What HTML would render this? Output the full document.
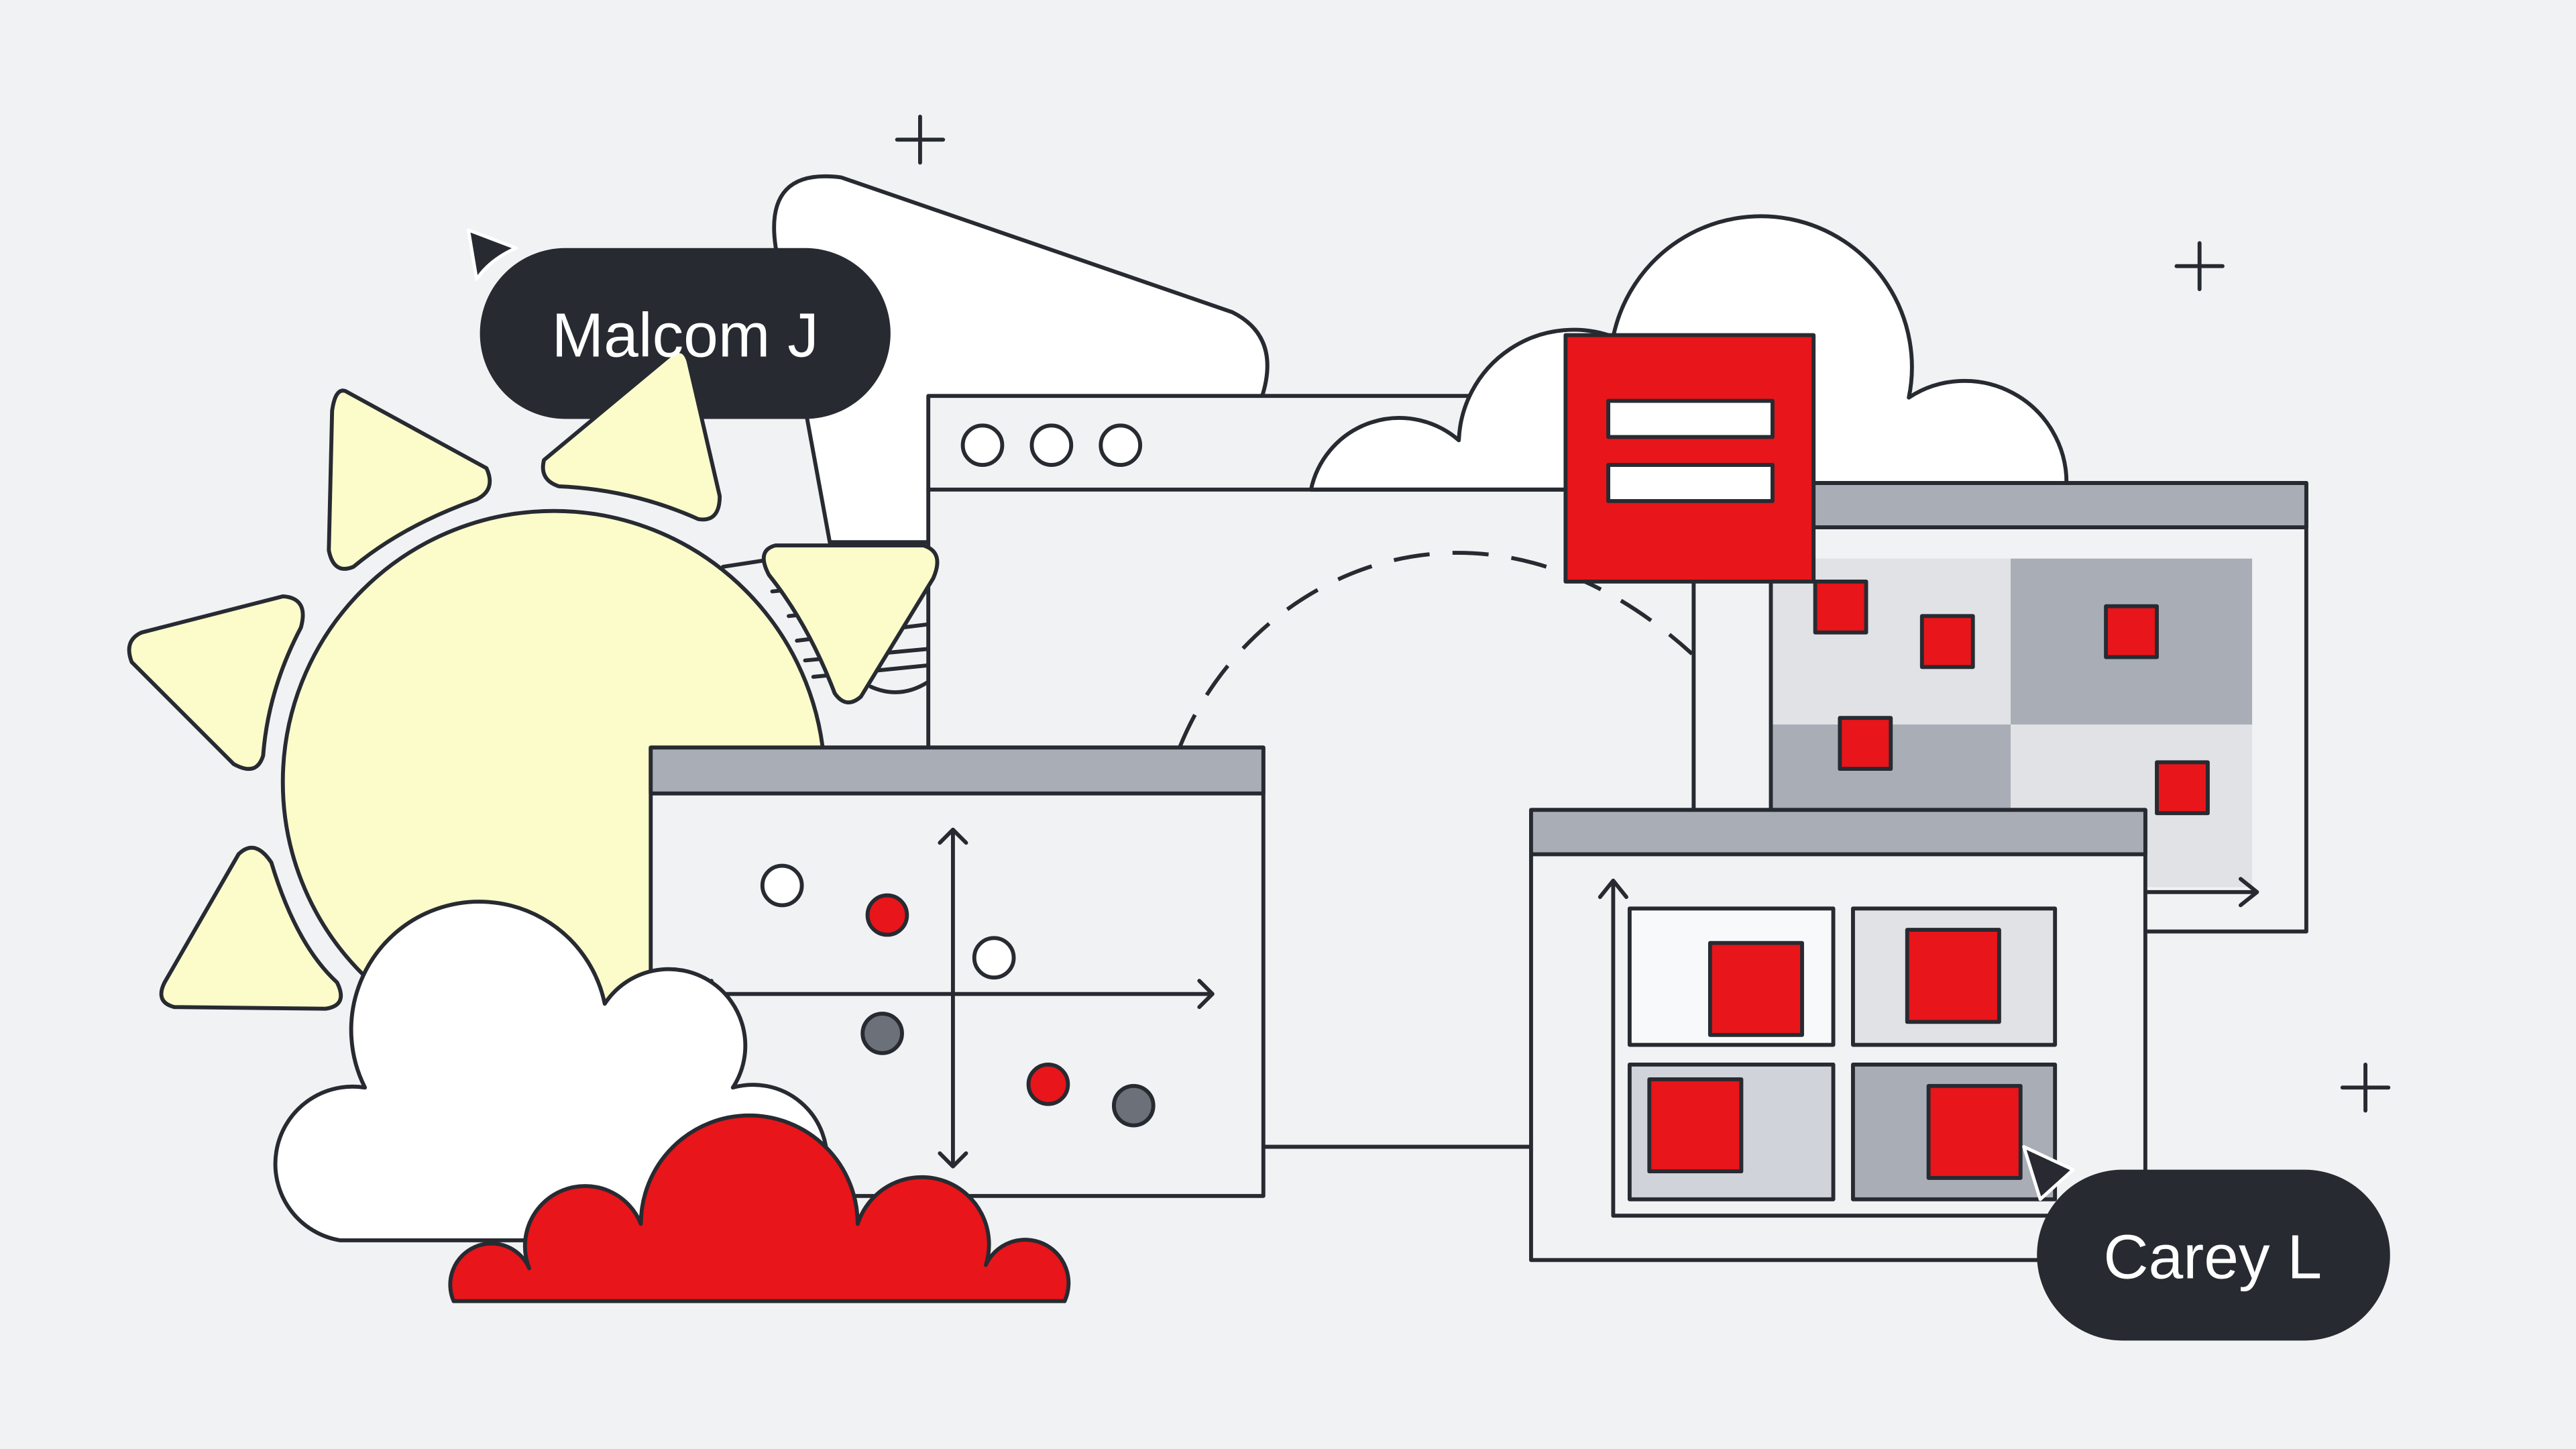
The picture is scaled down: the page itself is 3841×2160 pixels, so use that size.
<!DOCTYPE html>
<html><head><meta charset="utf-8"><style>
html,body{margin:0;padding:0;background:#f1f2f4;}
svg{display:block;}
text{font-family:"Liberation Sans",sans-serif;}
</style></head><body>
<svg width="3841" height="2160" viewBox="0 0 1568 882" xmlns="http://www.w3.org/2000/svg">
<rect width="1568" height="882" fill="#f1f2f4"/>
<g stroke="#272b31" stroke-width="2.4" fill="none" stroke-linejoin="round" stroke-linecap="round">
<path d="M546,85h28M560,71v28M1325,162h28M1339,148v28M1426,662h28M1440,648v28"/>
<path d="M505,330 L472,150 Q465,102 512,108 L750,190 Q780,205 768,242 L565,330 Z" fill="#fff"/>
<rect x="565" y="241" width="466" height="457" fill="#f1f2f4"/>
<line x1="565" y1="298" x2="1031" y2="298"/>
<circle cx="598" cy="271" r="12" fill="#fff"/>
<circle cx="640" cy="271" r="12" fill="#fff"/>
<circle cx="682" cy="271" r="12" fill="#fff"/>
<line x1="769" y1="698" x2="932" y2="698"/>
<path d="M798,298 A55 55 0 0 1 888,268 A70 70 0 0 1 982,205 A90 90 0 0 1 1162,242 A62 62 0 0 1 1258,294 L1258,298 Z" fill="#fff"/>
<path d="M798,298 L1040,298" />
<path d="M718,455 C760,350 900,280 1030,398" stroke-dasharray="22,14" stroke-linecap="butt"/>
<rect x="1031" y="294" width="373" height="273" fill="#f1f2f4"/>
<rect x="1031" y="294" width="373" height="27" fill="#a9aeb6"/>
<rect x="1078" y="340" width="146" height="101" fill="#e0e2e6" stroke="none"/>
<rect x="1224" y="340" width="147" height="101" fill="#a9aeb6" stroke="none"/>
<rect x="1078" y="441" width="146" height="99" fill="#a9aeb6" stroke="none"/>
<rect x="1224" y="441" width="147" height="99" fill="#e0e2e6" stroke="none"/>
<line x1="1078" y1="340" x2="1078" y2="545"/>
<path d="M1300,543 H1374 M1364,535 L1374,543 L1364,551"/>
<rect x="1105" y="354" width="31" height="31" fill="#e8151a"/>
<rect x="1170" y="375" width="31" height="31" fill="#e8151a"/>
<rect x="1282" y="369" width="31" height="31" fill="#e8151a"/>
<rect x="1120" y="437" width="31" height="31" fill="#e8151a"/>
<rect x="1313" y="464" width="31" height="31" fill="#e8151a"/>
<rect x="953" y="204" width="151" height="150" fill="#e8151a"/>
<rect x="979" y="244" width="100" height="22" fill="#fff"/>
<rect x="979" y="283" width="100" height="22" fill="#fff"/>
<rect x="932" y="493" width="374" height="274" fill="#f1f2f4"/>
<rect x="932" y="493" width="374" height="27" fill="#a9aeb6"/>
<path d="M982,538 V740 H1250 M974,546 L982,536 L990,546"/>
<rect x="992" y="553" width="124" height="83" fill="#f8f9fa"/>
<rect x="1128" y="553" width="123" height="83" fill="#e0e2e6"/>
<rect x="992" y="648" width="124" height="82" fill="#d0d4da"/>
<rect x="1128" y="648" width="123" height="82" fill="#a9aeb6"/>
<rect x="1041" y="574" width="56" height="56" fill="#e8151a"/>
<rect x="1161" y="566" width="56" height="56" fill="#e8151a"/>
<rect x="1004" y="657" width="56" height="56" fill="#e8151a"/>
<rect x="1174" y="661" width="56" height="56" fill="#e8151a"/>
<path d="M1232,698 L1262,712 L1242,730 Z" fill="#272b31" stroke="#fff" stroke-width="2"/>
<rect x="1240" y="712" width="215" height="104" rx="52" fill="#272b31" stroke="none"/>
<path d="M440,345 L505,335 M470,360 L520,355 M480,375 L545,368 M485,390 L565,380 M490,402 L565,395 M495,412 L565,405 M530,418 Q548,426 565,415"/>
<circle cx="337" cy="476" r="165" fill="#fcfccb"/>
<path d="M210,238 L296,285 Q302,298 290,304 Q245,320 215,345 Q203,350 200,335 L202,250 Q204,236 210,238Z" fill="#fcfccb"/>
<path d="M472,332 L562,332 Q575,336 568,352 L524,424 Q515,432 508,422 Q492,380 468,350 Q460,335 472,332Z" fill="#fcfccb"/>
<path d="M86,385 L172,363 Q188,364 183,382 Q163,420 160,460 Q156,473 142,465 L80,403 Q75,390 86,385Z" fill="#fcfccb"/>
<path d="M145,520 Q155,510 165,525 Q180,575 205,598 Q212,612 198,614 L106,613 Q94,610 100,598 Z" fill="#fcfccb"/>
<path d="M285,140 L314,151 Q298,158 290,170 Z" fill="#272b31" stroke="#fff" stroke-width="2"/>
<rect x="292" y="151" width="250" height="104" rx="52" fill="#272b31" stroke="none"/>
<path d="M331,280 L408,216 Q416,210 419,220 L438,302 Q438,318 425,316 Q385,298 340,296 Q328,292 331,280Z" fill="#fcfccb"/>
<rect x="396" y="455" width="373" height="273" fill="#f1f2f4"/>
<rect x="396" y="455" width="373" height="28" fill="#a9aeb6"/>
<path d="M580,505 V710 M572,513 L580,505 L588,513 M572,702 L580,710 L588,702 M425,605 H738 M730,597 L738,605 L730,613 M433,597 L425,605 L433,613"/>
<circle cx="476" cy="539" r="12" fill="#fff"/>
<circle cx="540" cy="557" r="12" fill="#e8151a"/>
<circle cx="605" cy="583" r="12" fill="#fff"/>
<circle cx="537" cy="629" r="12" fill="#6b7079"/>
<circle cx="638" cy="660" r="12" fill="#e8151a"/>
<circle cx="690" cy="673" r="12" fill="#6b7079"/>
<path d="M207,755 A47 47 0 0 1 222,662 A78 78 0 1 1 368,611 A45 45 0 0 1 446,662 A45 45 0 0 1 503,710 L503,755 Z" fill="#fff"/>
<path d="M276,792 A24 24 0 0 1 322,772 A34 34 0 0 1 390,745 A64 64 0 0 1 522,745 A36 36 0 0 1 600,770 A25 25 0 0 1 648,792 Z" fill="#e8151a"/>
</g>
<text x="417" y="217" font-size="38" fill="#fff" text-anchor="middle">Malcom J</text>
<text x="1347" y="778" font-size="38" fill="#fff" text-anchor="middle">Carey L</text>
</svg>
</body></html>
